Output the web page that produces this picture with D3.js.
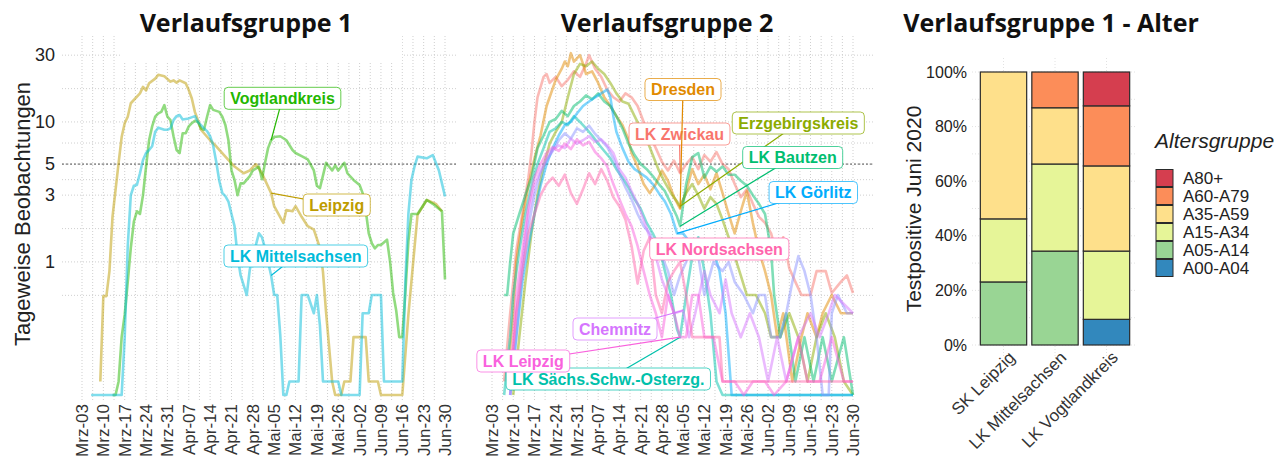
<!DOCTYPE html>
<html>
<head>
<meta charset="utf-8">
<script src="https://cdn.jsdelivr.net/npm/d3@7"></script>
<style>
  body { margin: 0; background: #fff; }
  svg { display: block; font-family: "Liberation Sans", Arial, sans-serif; }
</style>
</head>
<body>
<svg></svg>
<script>
// --- Daten -------------------------------------------------------------
const tickDays = ["03-03","03-10","03-17","03-24","03-31","04-07","04-14","04-21","04-28",
                  "05-05","05-12","05-19","05-26","06-02","06-09","06-16","06-23","06-30"];
const tickLabels = ["Mrz-03","Mrz-10","Mrz-17","Mrz-24","Mrz-31","Apr-07","Apr-14","Apr-21","Apr-28",
                    "Mai-05","Mai-12","Mai-19","Mai-26","Jun-02","Jun-09","Jun-16","Jun-23","Jun-30"];
const yTicks = [1, 3, 5, 10, 30];
const yMinor = [0.577, 1.73, 3.87, 7.07, 17.3];

// Verlaufsgruppe 1 (7-Tage-Mittel)
const leipzig = [["03-09",0.14],["03-10",0.57],["03-11",0.57],["03-12",0.86],["03-13",2.1],["03-15",5.1],
  ["03-16",7.8],["03-17",9.8],["03-18",10.9],["03-19",13.6],["03-22",16],["03-23",17.8],["03-24",16.8],
  ["03-25",18.9],["03-27",20.4],["03-28",21.7],["03-30",21.2],["04-01",19.4],["04-02",19.8],["04-03",19.1],
  ["04-04",19.8],["04-06",18.9],["04-07",16.9],["04-08",14.7],["04-09",11.8],["04-10",10.3],["04-11",8.8],
  ["04-12",8.3],["04-14",7.4],["04-16",6.7],["04-19",5.65],["04-22",4.8],["04-25",4.3],["04-27",4.5],
  ["04-29",5.0],["05-01",4.3],["05-02",3.85],["05-04",3.1],["05-05",2.5],["05-08",1.9],["05-09",2.35],
  ["05-11",2.3],["05-12",2.5],["05-14",2.1],["05-16",1.8],["05-18",1.7],["05-20",1.26],["05-21",0.85],
  ["05-22",0.44],["05-24",0.14],["05-25",0],["05-27",0],["05-28",0.14],["05-30",0.14],["05-31",0.29],
  ["06-04",0.29],["06-05",0.14],["06-08",0.14],["06-09",0],["06-16",0],["06-18",0.42],["06-20",1.26],
  ["06-21",2.17],["06-24",2.77],["06-27",2.6],["06-29",2.3]];

const vogtland = [["03-13",0],["03-14",0],["03-15",0.14],["03-16",0.29],["03-17",0.42],["03-18",0.72],
  ["03-19",1.26],["03-20",1.94],["03-21",2.3],["03-22",2.2],["03-23",3.0],["03-24",4.8],["03-25",7.4],
  ["03-26",9.3],["03-27",10.9],["03-28",11.5],["03-29",11.8],["03-30",13.2],["03-31",10.9],["04-01",10.3],
  ["04-02",7.9],["04-03",6.3],["04-04",6.0],["04-05",8.3],["04-06",8.3],["04-07",9.3],["04-08",9.8],
  ["04-09",10.2],["04-10",10.0],["04-11",9.0],["04-12",8.8],["04-13",10.9],["04-14",13.2],["04-15",12.2],
  ["04-17",11.8],["04-18",10.9],["04-19",9.5],["04-20",7.4],["04-21",4.5],["04-22",3.85],["04-23",3.0],
  ["04-24",3.64],["04-25",3.64],["04-27",4.1],["04-28",4.5],["04-30",4.8],["05-01",3.9],["05-02",5.1],
  ["05-03",6.5],["05-04",7.4],["05-05",7.8],["05-07",7.9],["05-09",7.4],["05-11",6.3],["05-12",6.0],
  ["05-14",5.7],["05-16",5.4],["05-18",4.5],["05-19",3.5],["05-20",3.36],["05-22",5.1],["05-23",4.8],
  ["05-24",4.5],["05-25",4.9],["05-26",4.5],["05-28",5.1],["05-29",4.3],["05-31",3.85],["06-02",3.55],
  ["06-03",3.1],["06-04",2.35],["06-05",1.6],["06-06",1.36],["06-07",1.25],["06-08",1.32],["06-09",1.32],
  ["06-11",1.44],["06-12",1.0],["06-13",0.6],["06-14",0.45],["06-15",0.29],["06-16",0.29],["06-17",0.6],
  ["06-18",1.4],["06-19",2.2],["06-21",2.2],["06-24",2.77],["06-26",2.6],["06-29",2.3],["06-30",0.75]];

const mittelsachsen = [["03-06",0],["03-16",0],["03-17",0.29],["03-18",1.3],["03-19",3.0],["03-20",3.5],
  ["03-21",3.55],["03-22",4.3],["03-23",5.35],["03-24",6.0],["03-25",6.3],["03-26",6.7],["03-27",8.5],
  ["03-28",9.1],["03-30",8.8],["03-31",8.8],["04-01",9.0],["04-02",10.3],["04-03",11.0],["04-04",11.2],
  ["04-05",10.4],["04-07",10.6],["04-09",11.0],["04-10",10.0],["04-11",9.5],["04-12",9.0],["04-13",8.6],
  ["04-14",7.9],["04-15",6.8],["04-16",5.2],["04-17",3.8],["04-18",3.1],["04-19",2.95],["04-20",2.7],
  ["04-21",2.2],["04-22",1.8],["04-23",1.1],["04-24",0.8],["04-26",0.58],["04-27",0.88],["04-28",1.09],
  ["04-30",1.6],["05-01",1.5],["05-02",1.25],["05-04",0.8],["05-05",0.58],["05-06",0.58],["05-07",0.3],
  ["05-08",0],["05-09",0],["05-10",0.14],["05-13",0.14],["05-14",0.58],["05-16",0.58],["05-18",0.43],
  ["05-19",0.58],["05-20",0.35],["05-21",0.14],["05-26",0.14],["05-27",0],["06-02",0],["06-03",0.43],
  ["06-05",0.43],["06-06",0.58],["06-09",0.58],["06-10",0.14],["06-16",0.14],["06-17",0.72],["06-18",2.2],
  ["06-19",3.85],["06-20",4.8],["06-21",5.65],["06-24",5.5],["06-26",5.8],["06-28",4.5],["06-29",3.64],
  ["06-30",2.93]];

// Verlaufsgruppe 2
const dresden = [["03-08",0.14],["03-10",0.43],["03-11",1.0],["03-13",2.0],["03-15",3.5],["03-17",5.5],
  ["03-19",8],["03-21",13],["03-22",15],["03-24",20],["03-26",24],["03-27",27],["03-28",25],["03-29",31],
  ["03-30",27],["04-01",30],["04-02",26],["04-03",22],["04-05",23],["04-07",19],["04-09",15],["04-11",13],
  ["04-13",11],["04-15",9.5],["04-17",7.5],["04-18",6],["04-20",4.8],["04-22",3.6],["04-24",3.1],
  ["04-26",3.6],["04-28",4.5],["04-30",3.8],["05-02",2.9],["05-04",2.4],["05-06",3.2],["05-08",4.6],
  ["05-10",3.6],["05-12",4.2],["05-14",3.3],["05-16",4.3],["05-18",3.1],["05-20",2.2],["05-22",1.6],
  ["05-24",2.3],["05-26",3.2],["05-28",1.9],["05-30",1.2],["06-01",0.86],["06-03",0.58],["06-05",0.29],
  ["06-07",0.43],["06-10",0.14],["06-13",0.29],["06-15",0.43],["06-18",0.29],["06-20",0.43],["06-23",0.58],
  ["06-26",0.43],["06-30",0.43]];

const zwickau = [["03-07",0.14],["03-09",0.43],["03-11",1.2],["03-13",2.2],["03-15",4],["03-16",6],
  ["03-17",10],["03-18",15],["03-20",21],["03-21",22],["03-22",19],["03-24",21],["03-26",18],["03-28",20],
  ["03-30",23],["04-01",21],["04-03",26],["04-04",30],["04-06",24],["04-08",21],["04-10",17],["04-12",15],
  ["04-14",14],["04-16",16],["04-18",15],["04-20",13],["04-22",10],["04-24",8],["04-26",6.5],["04-28",5.2],
  ["04-30",4.5],["05-02",5.3],["05-04",4.3],["05-06",5],["05-08",5.6],["05-10",4.6],["05-12",5.8],
  ["05-14",5.2],["05-16",6.1],["05-18",5],["05-20",4.6],["05-22",3.6],["05-24",2.9],["05-26",3.3],
  ["05-28",2.6],["05-30",2.1],["06-01",1.9],["06-03",1.6],["06-05",1.1],["06-07",1.5],["06-09",0.9],
  ["06-11",0.72],["06-13",0.58],["06-16",0.58],["06-18",0.86],["06-21",0.86],["06-23",0.6],["06-26",0.72],
  ["06-28",0.8],["06-30",0.6]];

const erzgebirge = [["03-10",0],["03-12",0.29],["03-14",0.72],["03-16",1.6],["03-18",3],["03-20",4.8],
  ["03-22",7],["03-24",8.5],["03-26",10],["03-28",15],["03-30",22],["04-01",26],["04-03",25],["04-05",27],
  ["04-07",24],["04-09",22],["04-11",19],["04-13",16],["04-15",14],["04-17",13.5],["04-19",11],["04-21",9],
  ["04-23",7.5],["04-25",5.8],["04-27",4.5],["04-29",3.7],["05-01",3.1],["05-03",2.7],["05-04",2.5],
  ["05-06",3.1],["05-08",3.6],["05-10",3.0],["05-12",2.4],["05-14",2.9],["05-16",2.6],["05-18",2.0],
  ["05-20",1.5],["05-22",1.1],["05-24",0.8],["05-26",0.58],["05-29",0.58],["06-01",0.43],["06-03",0.29],
  ["06-06",0.29],["06-09",0.43],["06-12",0.29],["06-15",0.14],["06-18",0.29],["06-21",0.43],["06-24",0.29],
  ["06-27",0.14],["06-30",0]];

const bautzen = [["03-07",0.58],["03-08",0.58],["03-09",1.0],["03-10",1.6],["03-12",2.2],["03-14",3],
  ["03-16",4],["03-18",6.5],["03-20",8],["03-22",10],["03-24",10.5],["03-26",12],["03-28",11],["03-30",13],
  ["04-01",14],["04-03",15.5],["04-05",14.5],["04-07",16],["04-09",14],["04-11",13],["04-13",11],["04-15",9],
  ["04-17",7],["04-19",5.8],["04-21",5],["04-23",4.6],["04-25",4.1],["04-27",3.6],["04-29",3.2],["05-01",2.6],
  ["05-03",2.1],["05-04",1.8],["05-06",3.6],["05-08",5.6],["05-10",6],["05-12",4],["05-14",4.8],["05-16",4.4],
  ["05-18",4.8],["05-20",4.2],["05-22",4.2],["05-24",3.8],["05-26",3.5],["05-28",3],["05-30",2.6],
  ["06-01",2.2],["06-03",1.2],["06-04",0.58],["06-06",0.29],["06-08",0.43],["06-11",0.14],["06-14",0.29],
  ["06-17",0.14],["06-20",0.29],["06-23",0.14],["06-27",0.29],["06-30",0]];

const goerlitz = [["03-09",0],["03-11",0.29],["03-13",0.72],["03-15",1.3],["03-17",2.2],["03-19",3.5],
  ["03-21",5],["03-23",6.5],["03-25",8],["03-27",9.5],["03-29",10],["03-31",11.5],["04-02",13],["04-04",14],
  ["04-06",15],["04-08",16],["04-10",17],["04-11",15],["04-12",11],["04-13",8.5],["04-15",6.5],["04-17",5.2],
  ["04-19",4.6],["04-21",4.3],["04-23",4],["04-25",3.6],["04-27",3.1],["04-29",2.7],["05-01",2.2],
  ["05-03",1.6],["05-05",1.6],["05-07",1.4],["05-09",1.3],["05-11",1.2],["05-13",1.1],["05-15",1.2],
  ["05-17",0.86],["05-19",0.43],["05-21",0],["06-30",0]];

const nordsachsen = [["03-09",0.14],["03-11",0.43],["03-13",0.86],["03-15",1.6],["03-17",2.2],["03-19",3],
  ["03-21",3.6],["03-23",4],["03-25",3.5],["03-27",4.2],["03-29",3.1],["03-31",2.6],["04-02",3.3],
  ["04-04",4.3],["04-06",3.6],["04-08",4.6],["04-10",3.8],["04-12",2.9],["04-14",2.5],["04-16",2.0],
  ["04-18",1.3],["04-20",0.7],["04-22",1.2],["04-24",1.5],["04-26",0.58],["04-28",0.43],["04-30",0.72],
  ["05-02",0.86],["05-04",1.0],["05-06",0.58],["05-08",0.29],["05-17",0.29],["05-18",0.14],["06-30",0.14]];

const chemnitz = [["03-09",0],["03-11",0.43],["03-13",1.0],["03-15",2.2],["03-17",3.5],["03-19",4.5],
  ["03-21",5.5],["03-23",6.3],["03-25",6.8],["03-27",6.5],["03-29",7.6],["03-31",7],["04-02",7.4],
  ["04-04",7.9],["04-06",7.2],["04-08",7.5],["04-10",6.8],["04-12",6],["04-14",4.6],["04-16",4],
  ["04-18",3.2],["04-20",2.6],["04-22",2.0],["04-24",1.5],["04-26",1.1],["04-28",0.75],["04-30",0.58],
  ["05-02",0.43],["05-05",0.45],["05-07",0.29],["05-09",0.43],["05-12",0.86],["05-14",0.58],["05-17",0.43],
  ["05-19",0.75],["05-21",0.43],["05-24",0.29],["05-27",0.43],["05-30",0.29],["06-02",0.14],["06-05",0.29],
  ["06-08",0.14],["06-12",0.29],["06-16",0.43],["06-19",0.29],["06-22",0.43],["06-24",0.58],["06-30",0.43]];

const lkLeipzig = [["03-09",0.14],["03-11",0.58],["03-13",1.2],["03-15",2.5],["03-17",4],["03-19",5],
  ["03-21",6],["03-23",6.6],["03-25",6.2],["03-27",7],["03-29",6.4],["03-31",7.5],["04-02",6.8],
  ["04-04",7.2],["04-06",6.1],["04-08",5.5],["04-10",4.8],["04-12",3.6],["04-14",2.8],["04-16",2.2],
  ["04-18",1.8],["04-20",1.3],["04-22",0.86],["04-24",0.58],["04-26",0.43],["04-28",0.29],["04-30",0.58],
  ["05-02",0.43],["05-04",0.29],["05-06",0.29],["05-08",0.58],["05-10",0.58],["05-12",0.29],["05-15",0.29],
  ["05-18",0.14],["05-22",0.14],["05-25",0],["05-28",0.14],["06-01",0.14],["06-04",0],["06-08",0.14],
  ["06-12",0.29],["06-15",0.14],["06-19",0.14],["06-23",0.29],["06-27",0.14],["06-30",0.14]];

const saechsSchw = [["03-07",0],["03-09",0.29],["03-10",0.58],["03-12",1.2],["03-14",2.2],["03-16",3.5],
  ["03-18",5],["03-20",6.5],["03-22",8.5],["03-24",9],["03-26",10],["03-28",9.5],["03-30",11],["04-01",10],
  ["04-03",9],["04-05",8],["04-07",7],["04-09",6.2],["04-11",5.5],["04-13",4.6],["04-15",4],["04-17",3.4],
  ["04-19",2.8],["04-21",2.4],["04-23",1.9],["04-25",1.6],["04-27",1.3],["04-29",0.86],["05-01",0.58],
  ["05-03",0.33],["05-04",0.29],["05-06",0.58],["05-08",1.1],["05-10",1.5],["05-12",0.86],["05-14",0.43],
  ["05-16",0.14],["05-18",0],["06-30",0]];

const meissen = [["03-09",0],["03-11",0.29],["03-13",0.86],["03-15",1.8],["03-17",3],["03-19",4.3],
  ["03-21",5.3],["03-23",6.2],["03-25",7.4],["03-27",8.3],["03-29",7.6],["03-31",9],["04-02",8.5],
  ["04-04",9.4],["04-06",8.2],["04-08",7.4],["04-10",6.6],["04-12",5.5],["04-14",4.3],["04-16",3.4],
  ["04-18",2.8],["04-20",2.2],["04-22",1.8],["04-24",1.6],["04-26",1.3],["04-28",1.1],["04-30",0.86],
  ["05-02",0.58],["05-04",0.8],["05-06",1.0],["05-08",1.3],["05-10",1.1],["05-12",0.58],["05-15",1.0],
  ["05-18",0.86],["05-20",1.0],["05-22",0.72],["05-25",0.58],["05-28",0.43],["05-30",0.58],["06-01",0.58],
  ["06-03",0.29],["06-06",0.29],["06-08",0.43],["06-10",0.72],["06-12",1.1],["06-14",0.86],["06-16",0.58],
  ["06-18",0.29],["06-20",0],["06-22",0],["06-23",0.43],["06-25",0.58],["06-28",0.43],["06-30",0.43]];

// Altersgruppen (Anteile in %)
const ageGroups = ["A00-A04","A05-A14","A15-A34","A35-A59","A60-A79","A80+"];
const ageColors = ["#3288BD","#99D594","#E6F598","#FEE08B","#FC8D59","#D53E4F"];
const barRegions = ["SK Leipzig","LK Mittelsachsen","LK Vogtlandkreis"];
const sharesLeipzig = [0, 23.1, 23.1, 53.8, 0, 0];
const sharesMittelsachsen = [0, 34.4, 31.9, 20.6, 13.1, 0];
const sharesVogtland = [9.4, 0, 25.0, 31.2, 22.0, 12.4];
const pctTicks = [0, 20, 40, 60, 80, 100];

// Serien + Beschriftungen (Anker = Datum/Wert, Box = Pixelmitte)
const group1 = [
  {name: "Leipzig", data: leipzig, color: "#BE9C00", at: ["05-04", 3.1], box: [336.7, 205]},
  {name: "Vogtlandkreis", data: vogtland, color: "#24B700", at: ["05-04", 7.4], box: [282.5, 98.3]},
  {name: "LK Mittelsachsen", data: mittelsachsen, color: "#00BBDA", at: ["05-04", 0.8], box: [295.8, 256]}
];
const group2 = [
  {name: "LK Zwickau", data: zwickau, color: "#F8766D", at: ["05-04", 4.3], box: [679.5, 134]},
  {name: "Dresden", data: dresden, color: "#E18A00", at: ["05-04", 2.4], box: [683, 89.5]},
  {name: "Erzgebirgskreis", data: erzgebirge, color: "#8CAB00", at: ["05-04", 2.5], box: [798.3, 123]},
  {name: "LK Bautzen", data: bautzen, color: "#00BE70", at: ["05-04", 1.8], box: [792.7, 157.5]},
  {name: "LK Sächs.Schw.-Osterzg.", data: saechsSchw, color: "#00C1AB", at: ["05-04", 0.29], box: [608.3, 379]},
  {name: "LK Görlitz", data: goerlitz, color: "#00ACFC", at: ["05-03", 1.6], box: [813.3, 192.5]},
  {name: null, data: meissen, color: "#8B93FF"},
  {name: "Chemnitz", data: chemnitz, color: "#D575FE", at: ["05-05", 0.45], box: [615, 329]},
  {name: "LK Leipzig", data: lkLeipzig, color: "#F962DD", at: ["05-04", 0.29], box: [523.3, 361]},
  {name: "LK Nordsachsen", data: nordsachsen, color: "#FF65AC", at: ["05-04", 1.0], box: [719.3, 249]}
];

// --- Aufbau ------------------------------------------------------------
const width = 1287, height = 461;
const svg = d3.select("svg").attr("width", width).attr("height", height);

const parseDay = d3.timeParse("%Y-%m-%d");
const day = s => parseDay("2020-" + s);

const panelTop = 36, panelBottom = 400;
const y = d3.scaleLog().domain([0.112, 38.5]).range([395, 40]).clamp(true);

function linePanel(x, left, right, series) {
  const g = svg.append("g");
  const grid = g.append("g").attr("fill", "none");

  // senkrechte Gitterlinien: Wochen + Halbwochen
  const majors = tickDays.map(day);
  const minors = majors.slice(0, -1).map(d => d3.timeHour.offset(d, 84));
  grid.selectAll(".vx").data(majors.concat(minors)).join("line")
    .attr("x1", d => x(d)).attr("x2", d => x(d))
    .attr("y1", panelTop).attr("y2", panelBottom)
    .attr("stroke", "#cfcfcf").attr("stroke-dasharray", "1,2");

  grid.selectAll(".hy").data(yTicks.concat(yMinor)).join("line")
    .attr("x1", left).attr("x2", right)
    .attr("y1", d => y(d)).attr("y2", d => y(d))
    .attr("stroke", "#cfcfcf").attr("stroke-dasharray", "1,2");

  // Referenzlinie bei 5
  g.append("line")
    .attr("x1", left).attr("x2", right).attr("y1", y(5)).attr("y2", y(5))
    .attr("stroke", "#555").attr("stroke-dasharray", "2,2");

  const line = d3.line().x(d => x(day(d[0]))).y(d => y(d[1]));
  g.selectAll("path.s").data(series).join("path")
    .attr("class", "s")
    .attr("d", s => line(s.data))
    .attr("fill", "none")
    .attr("stroke", s => s.color)
    .attr("stroke-width", 2.6)
    .attr("stroke-opacity", 0.5)
    .attr("stroke-linejoin", "round");

  // x-Achse
  g.selectAll("text.xt").data(tickDays).join("text")
    .attr("class", "xt")
    .attr("transform", d => `translate(${x(day(d))},404) rotate(-90)`)
    .attr("text-anchor", "end").attr("dy", "0.35em")
    .attr("font-size", 17).attr("fill", "#333")
    .text((d, i) => tickLabels[i]);

  // Beschriftungen mit Verbindungslinie
  const lab = g.append("g");
  series.filter(s => s.name).forEach(s => {
    const px = x(day(s.at[0])), py = y(s.at[1]);
    lab.append("line")
      .attr("x1", s.box[0]).attr("y1", s.box[1]).attr("x2", px).attr("y2", py)
      .attr("stroke", s.color).attr("stroke-width", 1.2);
    const b = lab.append("g").attr("transform", `translate(${s.box[0]},${s.box[1]})`);
    const rect = b.append("rect");
    const t = b.append("text")
      .attr("text-anchor", "middle").attr("dy", "0.36em")
      .attr("font-size", 16).attr("font-weight", "bold")
      .attr("fill", s.color).text(s.name);
    const w = t.node().getComputedTextLength() + 12;
    rect.attr("x", -w / 2).attr("y", -11).attr("width", w).attr("height", 22)
      .attr("rx", 4).attr("fill", "#fff")
      .attr("stroke", s.color).attr("stroke-opacity", 0.7);
  });
  return g;
}

const x1 = d3.scaleTime().domain([day("03-03"), day("06-30")]).range([82, 445]);
const x2 = d3.scaleTime().domain([day("03-03"), day("06-30")]).range([492, 853]);

linePanel(x1, 62, 458, group1);
linePanel(x2, 470, 873, group2);

// y-Achse links
svg.selectAll("text.yt").data(yTicks).join("text")
  .attr("class", "yt")
  .attr("x", 55).attr("y", d => y(d)).attr("dy", "0.35em")
  .attr("text-anchor", "end").attr("font-size", 18).attr("fill", "#222")
  .text(d => d);

svg.append("text")
  .attr("transform", "translate(30,214) rotate(-90)")
  .attr("text-anchor", "middle").attr("font-size", 22).attr("fill", "#222")
  .text("Tageweise Beobachtungen");

// Titel (Titelfeld links verdeckt das Gitter)
svg.append("rect").attr("x", 122).attr("y", 0).attr("width", 280).attr("height", 63).attr("fill", "#fff");
const titles = [["Verlaufsgruppe 1", 246], ["Verlaufsgruppe 2", 667], ["Verlaufsgruppe 1 - Alter", 1051]];
svg.selectAll("text.title").data(titles).join("text")
  .attr("class", "title")
  .attr("x", d => d[1]).attr("y", 32)
  .attr("text-anchor", "middle")
  .attr("font-family", "'Open Sans', sans-serif")
  .attr("font-weight", "bold").attr("font-size", 25).attr("fill", "#111")
  .text(d => d[0]);

// --- Balken ------------------------------------------------------------
const shares = [sharesLeipzig, sharesMittelsachsen, sharesVogtland];
const rows = barRegions.map((r, i) => {
  const o = {region: r};
  ageGroups.forEach((a, j) => o[a] = shares[i][j]);
  return o;
});
const stacked = d3.stack().keys(ageGroups)(rows);

const xb = d3.scaleBand().domain(barRegions).range([972.6, 1137.4])
  .paddingInner(0.1).paddingOuter(0.15);
const yb = d3.scaleLinear().domain([0, 100]).range([345, 72]);

const bars = svg.append("g");
bars.selectAll("line.gh").data(d3.range(0, 101, 10)).join("line")
  .attr("x1", 972).attr("x2", 1137).attr("y1", d => yb(d)).attr("y2", d => yb(d))
  .attr("stroke", "#e2e2e2").attr("stroke-dasharray", "1,2");
bars.selectAll("line.gv").data(barRegions).join("line")
  .attr("x1", d => xb(d) + xb.bandwidth() / 2).attr("x2", d => xb(d) + xb.bandwidth() / 2)
  .attr("y1", 58).attr("y2", 358)
  .attr("stroke", "#e2e2e2").attr("stroke-dasharray", "1,2");

bars.selectAll("g.layer").data(stacked).join("g")
  .attr("class", "layer")
  .attr("fill", (d, i) => ageColors[i])
  .selectAll("rect").data(d => d.filter(v => v[1] - v[0] > 0)).join("rect")
  .attr("x", d => xb(d.data.region))
  .attr("width", xb.bandwidth())
  .attr("y", d => yb(d[1]))
  .attr("height", d => yb(d[0]) - yb(d[1]))
  .attr("stroke", "#2a2a2a").attr("stroke-width", 1.2);

bars.selectAll("text.pt").data(pctTicks).join("text")
  .attr("x", 967).attr("y", d => yb(d)).attr("dy", "0.35em")
  .attr("text-anchor", "end").attr("font-size", 16).attr("fill", "#222")
  .text(d => d + "%");

bars.selectAll("text.bx").data(barRegions).join("text")
  .attr("transform", d => `translate(${xb(d) + xb.bandwidth() / 2 + 4},350) rotate(-45)`)
  .attr("text-anchor", "end").attr("dy", "0.71em")
  .attr("font-size", 17).attr("fill", "#333")
  .text(d => d);

svg.append("text")
  .attr("transform", "translate(921,209) rotate(-90)")
  .attr("text-anchor", "middle").attr("font-size", 21).attr("fill", "#222")
  .text("Testpositive Juni 2020");

// Legende
const legend = svg.append("g").attr("transform", "translate(1156,0)");
legend.append("text")
  .attr("x", -1).attr("y", 148)
  .attr("font-size", 21).attr("font-style", "italic").attr("fill", "#222")
  .text("Altersgruppe");
const items = ageGroups.map((a, i) => ({a, c: ageColors[i]})).reverse();
const li = legend.selectAll("g.li").data(items).join("g")
  .attr("transform", (d, i) => `translate(0,${169.5 + i * 18})`);
li.append("rect").attr("width", 17).attr("height", 17)
  .attr("fill", d => d.c).attr("stroke", "#2a2a2a").attr("stroke-width", 1);
li.append("text").attr("x", 27).attr("y", 8.5).attr("dy", "0.36em")
  .attr("font-size", 17).attr("fill", "#222").text(d => d.a);
</script>
</body>
</html>
